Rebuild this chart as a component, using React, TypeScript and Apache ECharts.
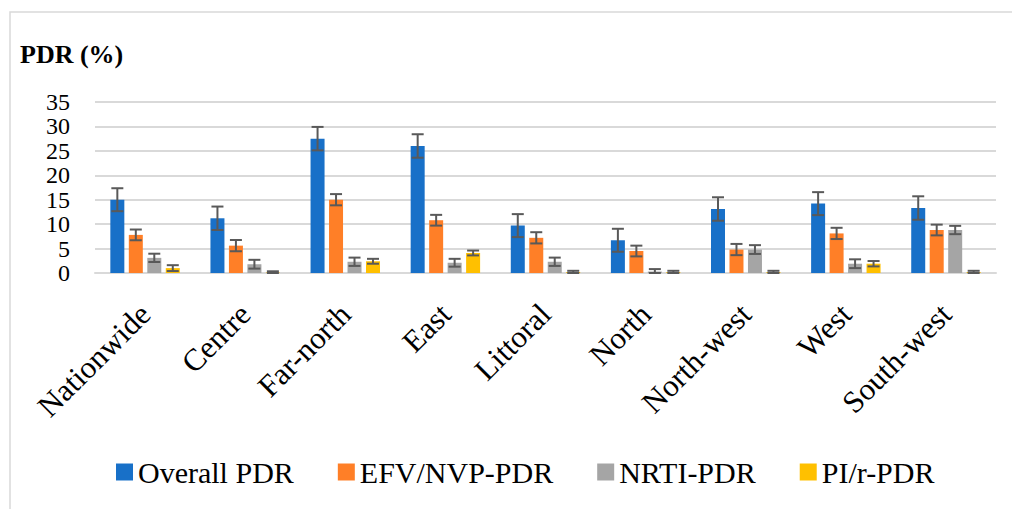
import React, { useEffect, useRef } from "react";
import * as echarts from "echarts";

const categories = ["Nationwide", "Centre", "Far-north", "East", "Littoral", "North", "North-west", "West", "South-west"];
const seriesNames = ["Overall PDR", "EFV/NVP-PDR", "NRTI-PDR", "PI/r-PDR"];
const overall = [15.0, 11.2, 27.5, 26.0, 9.7, 6.7, 13.1, 14.2, 13.3];
const overallErr = [2.35, 2.4, 2.4, 2.4, 2.35, 2.35, 2.4, 2.35, 2.4];
const efv = [7.8, 5.6, 15.0, 10.8, 7.2, 4.5, 4.8, 8.1, 8.8];
const efvErr = [1.1, 1.15, 1.15, 1.1, 1.15, 1.1, 1.15, 1.15, 1.1];
const nrti = [3.1, 1.8, 2.3, 2.1, 2.3, 0.3, 4.8, 1.9, 8.8];
const nrtiErr = [0.85, 0.9, 0.85, 0.8, 0.85, 0.5, 0.9, 0.9, 0.85];
const pi = [1.0, 0.1, 2.4, 4.1, 0.2, 0.2, 0.2, 1.9, 0.2];
const piErr = [0.6, 0.25, 0.5, 0.5, 0.25, 0.25, 0.25, 0.55, 0.25];
const yTicks = { min: 0, max: 35, interval: 5 };

const colors = ["#1870C8", "#FF7F27", "#A5A5A5", "#FFC000"];
const values = [overall, efv, nrti, pi];
const errors = [overallErr, efvErr, nrtiErr, piErr];

const BAR_W = 14;
const BAR_GAP = 0.32;
const FONT = "Liberation Serif";

export default function App() {
  const ref = useRef<HTMLDivElement>(null);
  useEffect(() => {
    if (!ref.current) return;
    const chart = echarts.init(ref.current, null, { renderer: "svg" });
    const pitch = BAR_W * (1 + BAR_GAP);
    const barSeries = seriesNames.map((name, i) => ({
      name,
      type: "bar",
      data: values[i],
      barWidth: BAR_W,
      barGap: BAR_GAP * 100 + "%",
      itemStyle: { color: colors[i] },
      z: 2,
    }));
    const errSeries = seriesNames.map((name, i) => ({
      name: name + " err",
      type: "custom",
      data: values[i].map((v, k) => [k, v, errors[i][k]]),
      encode: { x: 0, y: 1 },
      z: 5,
      silent: true,
      renderItem: (params: any, api: any) => {
        const k = api.value(0);
        const v = api.value(1);
        const e = api.value(2);
        const off = (i - 1.5) * pitch;
        const top = api.coord([k, v + e]);
        const bot = api.coord([k, Math.max(v - e, 0)]);
        const x = top[0] + off;
        const hw = 6;
        const st = { stroke: "#595959", lineWidth: 2 };
        return {
          type: "group",
          children: [
            { type: "line", shape: { x1: x, y1: top[1], x2: x, y2: bot[1] }, style: st },
            { type: "line", shape: { x1: x - hw, y1: top[1], x2: x + hw, y2: top[1] }, style: st },
            { type: "line", shape: { x1: x - hw, y1: bot[1], x2: x + hw, y2: bot[1] }, style: st },
          ],
        };
      },
    }));
    chart.setOption({
      animation: false,
      backgroundColor: "#ffffff",
      title: {
        text: "PDR (%)",
        left: 15,
        top: 36,
        textStyle: { fontFamily: FONT, fontSize: 26, fontWeight: "bold", color: "#000" },
      },
      graphic: [
        {
          type: "rect",
          shape: { x: 10, y: 12, width: 1020, height: 520 },
          style: { fill: "none", stroke: "#D9D9D9", lineWidth: 1.5 },
          silent: true,
        },
      ],
      legend: {
        data: seriesNames,
        left: 111,
        top: 452,
        icon: "rect",
        itemWidth: 17,
        itemHeight: 17,
        itemGap: 44,
        textStyle: { fontFamily: FONT, fontSize: 30, color: "#000", lineHeight: 30 },
      },
      grid: { left: 95, right: 16, top: 102, bottom: 236 },
      xAxis: {
        type: "category",
        data: categories,
        axisLine: { lineStyle: { color: "#D9D9D9", width: 2 } },
        axisTick: { show: false },
        axisLabel: {
          rotate: 45,
          margin: 36,
          interval: 0,
          fontFamily: FONT,
          fontSize: 31,
          color: "#000",
        },
      },
      yAxis: {
        type: "value",
        min: yTicks.min,
        max: yTicks.max,
        interval: yTicks.interval,
        axisLine: { show: false },
        axisTick: { show: false },
        splitLine: { lineStyle: { color: "#D9D9D9", width: 2 } },
        axisLabel: { margin: 25, fontFamily: FONT, fontSize: 24, color: "#000" },
      },
      series: [...barSeries, ...errSeries],
    });
    return () => chart.dispose();
  }, []);
  return (
    <div
      ref={ref}
      style={{ position: "fixed", left: 0, top: 0, width: 1012, height: 509 }}
    />
  );
}
